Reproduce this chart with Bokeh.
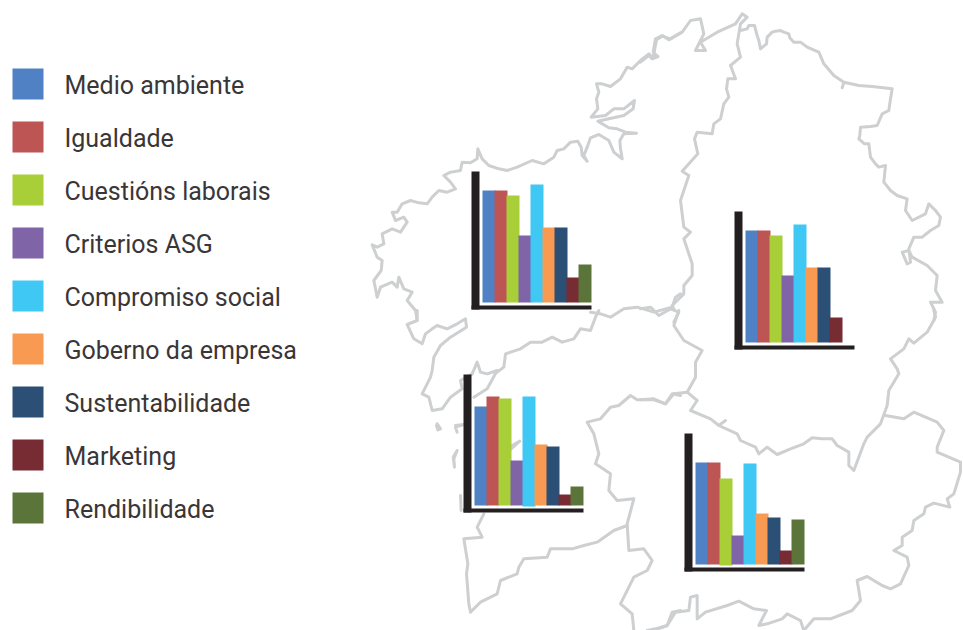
from bokeh.plotting import figure
from bokeh.models import Range1d
from bokeh.core.properties import value
from bokeh.embed import file_html
from bokeh.resources import INLINE

categories = ["Medio ambiente", "Igualdade", "Cuestións laborais", "Criterios ASG",
              "Compromiso social", "Goberno da empresa", "Sustentabilidade", "Marketing", "Rendibilidade"]
colors = ["#4f81c4", "#bd5555", "#a8cf38", "#8064a8", "#3fc8f4", "#f99a52", "#2c4f76", "#772b32", "#5a7439"]
coruna = [112, 112, 107, 67, 118, 75, 75, 25, 38]
lugo = [112, 112, 107, 67, 118, 75, 75, 25, 0]
pontevedra = [99, 109, 107, 45, 109, 61, 59, 11, 19]
ourense = [102, 102, 86, 29, 101, 51, 47, 14, 45]
# (values, left edge of the vertical axis, baseline of the bars, bar that overhangs the baseline by 1px)
charts = [(coruna, 471, 302, None), (lugo, 734, 342, None), (pontevedra, 463, 505, 4), (ourense, 684, 564, 2)]

# Map outlines, traced in 3x crop coordinates with the crop origin
Z1, Z2, Z3, Z4 = (360, 0), (640, 0), (360, 310), (640, 310)
outlines = [
 (Z1, [(960,97),(930,115),(905,107),(888,118),(882,150),(878,172),(892,168),(878,172),(865,160),(840,180),(815,205),(800,200),(780,235),(750,258),(725,250),(708,250),(715,275),(708,295),(712,325),(692,350),(735,345),(760,325),(790,325),(822,300),(818,325),(790,345),(745,355),(712,362),(745,382),(770,385),(795,395),(828,398),(790,400),(778,420),(780,445),(785,475),(760,455),(745,420),(715,402),(690,412),(680,440),(670,465),(680,482),(665,465),(662,440),(652,422),(630,425),(610,445),(590,450),(580,470),(550,490),(515,480),(470,500),(440,510),(415,505),(385,495),(365,475),(352,445),(350,475),(330,487),(305,485),(300,510),(270,515),(250,525),(270,545),(285,565),(260,575),(235,570),(215,590),(200,610),(175,607),(150,600),(125,610),(110,635),(95,635),(105,660),(130,650),(140,665),(120,695),(95,685),(65,700),(70,730),(50,740),(35,733),(50,770),(65,780),(62,810),(40,840),(50,890),(60,860),(95,845),(110,860),(115,830),(130,865),(155,875),(140,900),(165,930),(170,960)]),
 (Z3, [(170,0),(170,30),(140,42),(160,85),(185,100),(195,70),(215,55),(230,45),(260,55),(290,40),(315,25),(318,50),(270,80),(240,105),(220,140),(215,180),(210,200),(185,250),(205,260),(215,300),(245,295),(270,260),(305,235),(300,210),(335,190)]),
 (Z3, [(335,190),(350,155),(360,185),(380,190),(410,180),(380,235),(340,260)]),
 (Z3, [(410,185),(430,170),(435,130),(480,115),(510,95),(545,95),(575,80),(605,95),(640,85),(660,55),(690,60),(705,20),(715,0)]),
 (Z1, [(690,935),(720,940),(750,950),(790,925),(830,920),(880,935),(935,920),(945,890),(960,880)]),
 (Z2, [(0,925),(30,920),(55,945),(90,925),(115,935),(100,965)]),
 (Z2, [(0,185),(25,165),(35,175),(52,168),(38,155),(45,115),(65,105),(85,118),(125,95),(150,60),(180,55),(190,100),(165,150),(195,150),(180,125),(230,95),(285,70),(305,40),(320,50),(300,70),(290,130),(300,170),(270,195),(285,235),(262,235),(258,265),(265,290),(250,310),(240,355),(220,370),(215,400),(170,395),(162,415),(172,460),(125,512),(145,525),(120,600),(130,680),(150,695),(130,715),(155,790),(155,825),(130,855),(130,880),(95,915),(100,925)]),
 (Z4, [(115,0),(100,45),(130,90),(185,120),(165,155),(165,200),(140,245),(100,250),(75,280),(40,265),(0,268)]),
 (Z3, [(960,255),(935,250),(915,280),(880,268),(830,268),(810,255),(775,285),(750,290),(720,325),(680,335),(700,370),(715,430),(705,460),(750,490),(745,540),(770,570),(820,565),(800,640),(805,720),(850,715),(875,750),(860,780),(820,800),(780,880),(815,910),(820,960)]),
 (Z3, [(800,645),(760,660),(710,695),(670,705),(635,715),(570,715),(560,740),(490,745),(475,770),(470,790),(420,810),(410,850),(360,875),(330,905),(325,880),(318,790),(322,760),(310,685),(365,680),(350,650),(370,610)]),
 (Z4, [(140,245),(170,270),(150,300),(210,325),(235,345),(255,330),(235,345),(290,370),(300,390),(345,410),(355,430),(380,410),(410,432),(450,415),(490,400),(515,382),(545,385),(575,385),(590,405),(625,425),(625,465),(640,480),(670,400),(680,380),(720,340),(740,285),(745,240),(775,190),(770,175),(750,145),(790,115),(805,85),(820,98),(860,65),(885,20),(880,0)]),
 (Z2, [(880,960),(885,935),(870,905),(905,905),(885,870),(890,825),(860,795),(815,770),(805,750),(785,755),(800,790),(810,785),(805,745),(820,710),(845,710),(870,690),(895,675),(900,650),(885,630),(865,610),(855,640),(815,660),(795,630),(800,595),(770,585),(750,570),(730,545),(735,495),(715,500),(705,490),(690,470),(685,430),(672,430),(655,415),(658,405),(660,380),(690,378),(710,375),(725,340),(745,330),(750,295),(755,265),(695,258),(655,255),(610,245),(605,262),(610,245),(580,225),(550,190),(535,155),(500,140),(480,125),(460,125),(448,112),(445,100),(430,95),(420,90),(405,92),(395,95),(380,110),(378,130),(360,145),(355,120),(350,105),(342,75),(325,75),(320,85),(300,90)]),
 (Z4, [(735,315),(790,325),(820,305),(890,335),(910,360),(890,410),(890,425),(960,455),(960,485),(940,550),(920,565),(928,590),(880,578),(855,590),(850,610),(820,630),(815,660),(785,680),(785,705),(760,720),(800,740),(805,765),(780,820),(750,835),(725,825),(680,798),(650,810),(660,870),(635,900),(570,925),(520,925),(490,960)]),
 (Z4, [(490,960),(480,930),(440,910),(425,925),(380,940),(355,945),(378,900),(340,895),(295,872),(260,885),(195,905),(170,925),(170,855),(150,860),(145,900),(105,905),(80,945),(45,955),(20,960)]),
 (Z3, [(960,900),(935,905),(920,945),(880,960)]),
 (Z3, [(230,340),(240,355),(232,358),(228,345),(230,340)]),
 (Z3, [(290,420),(278,440),(282,470),(280,445),(290,420)]),
 (Z3, [(300,555),(302,600)]),
 (Z3, [(285,345),(310,342),(285,350),(290,365)]),
 (Z3, [(455,405),(478,392),(452,415)]),
]

p = figure(width=963, height=630, x_range=Range1d(0, 963), y_range=Range1d(630, 0),
           output_backend="svg", toolbar_location=None, min_border=0,
           background_fill_color="white", border_fill_color="white", outline_line_color=None)
p.axis.visible = False
p.grid.visible = False

for (ox, oy), pts in outlines:
    p.line([ox + x / 3 for x, _ in pts], [oy + y / 3 for _, y in pts],
           line_color="#cdcfd0", line_width=3, line_join="round", line_cap="round")

for vals, ax, base, over in charts:
    bx = ax + 11
    left = [bx + 12 * i for i in range(len(vals))]
    p.quad(left=left, right=[l + 13 for l in left], top=[base - v for v in vals],
           bottom=[base + (1 if i == over else 0) for i in range(len(vals))],
           fill_color=colors, line_color=None)
    ytop = base - 131
    p.quad(left=[ax], right=[ax + 8], top=[ytop], bottom=[base + 7], fill_color="#231f20", line_color=None)
    p.quad(left=[ax], right=[ax + 120], top=[base + 3], bottom=[base + 7], fill_color="#231f20", line_color=None)

tops = [68 + 53 * i for i in range(len(categories))]
p.quad(left=[12] * 9, right=[43] * 9, top=tops, bottom=[t + 31 for t in tops], fill_color=colors, line_color=None)
p.text(x=[64] * 9, y=[t + 17 for t in tops], text=categories, text_font=value("Roboto"),
       text_font_size="25px", text_color="#3a3638", text_baseline="middle", text_align="left")

open("out.html", "w").write(file_html(p, INLINE))
